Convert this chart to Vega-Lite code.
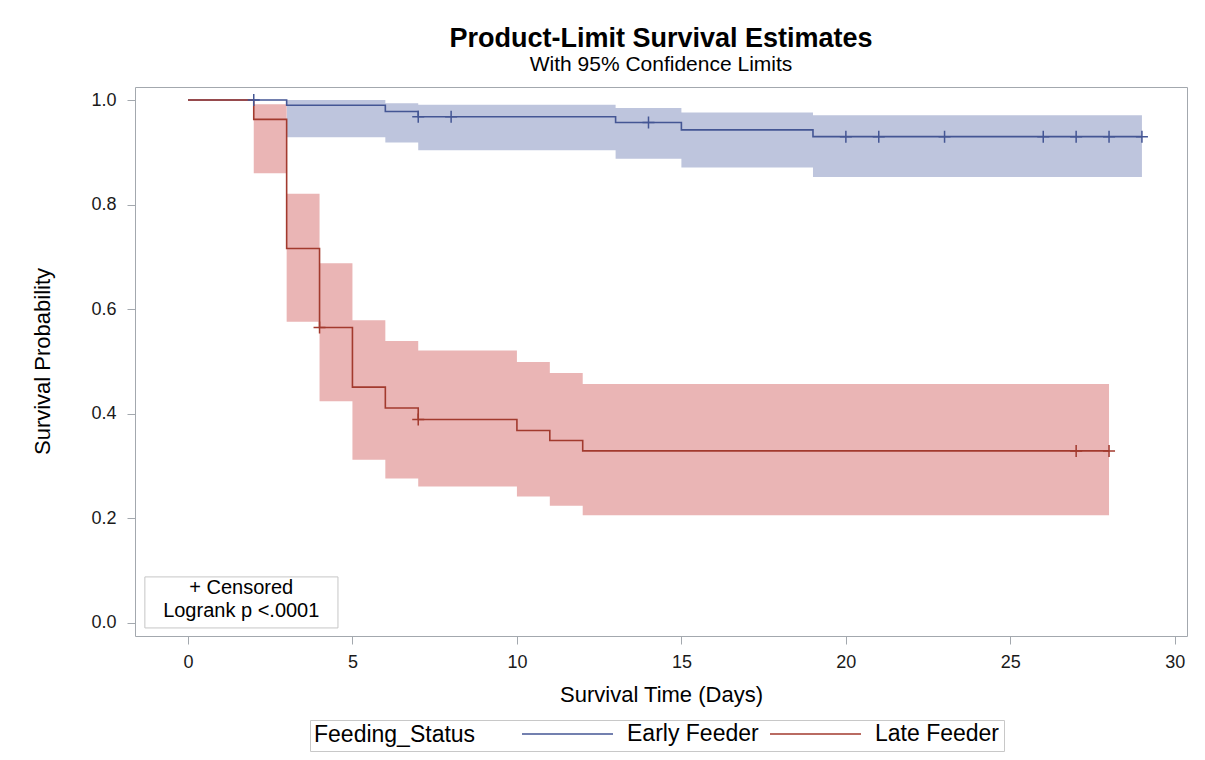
{
  "$schema": "https://vega.github.io/schema/vega-lite/v6.json",
  "width": 1052,
  "height": 549,
  "autosize": {"type": "none"},
  "padding": {"left": 135, "top": 87, "right": 18, "bottom": 124},
  "background": "white",
  "config": {
    "font": "Liberation Sans",
    "view": {"stroke": "#a3a8ae", "strokeWidth": 1},
    "axis": {
      "domain": false,
      "grid": false,
      "tickColor": "#a3a8ae",
      "tickSize": 8,
      "labelFont": "Liberation Sans",
      "labelFontSize": 18,
      "labelColor": "#1a1a1a",
      "titleFont": "Liberation Sans",
      "titleFontSize": 22,
      "titleFontWeight": "normal",
      "titleColor": "#000000"
    }
  },
  "title": {
    "text": "Product-Limit Survival Estimates",
    "subtitle": "With 95% Confidence Limits",
    "anchor": "middle",
    "font": "Liberation Sans",
    "fontSize": 27,
    "fontWeight": "bold",
    "color": "#000000",
    "subtitleFont": "Liberation Sans",
    "subtitleFontSize": 21,
    "subtitleColor": "#000000",
    "subtitlePadding": 1,
    "offset": 11
  },
  "datasets": {
    "curves": [
      {"group": "Early Feeder", "time": 0, "surv": 1.0},
      {"group": "Early Feeder", "time": 3, "surv": 0.990},
      {"group": "Early Feeder", "time": 6, "surv": 0.978},
      {"group": "Early Feeder", "time": 7, "surv": 0.968},
      {"group": "Early Feeder", "time": 13, "surv": 0.957},
      {"group": "Early Feeder", "time": 15, "surv": 0.943},
      {"group": "Early Feeder", "time": 19, "surv": 0.930},
      {"group": "Early Feeder", "time": 29, "surv": 0.930},
      {"group": "Late Feeder", "time": 0, "surv": 1.0},
      {"group": "Late Feeder", "time": 2, "surv": 0.963},
      {"group": "Late Feeder", "time": 3, "surv": 0.716},
      {"group": "Late Feeder", "time": 4, "surv": 0.565},
      {"group": "Late Feeder", "time": 5, "surv": 0.451},
      {"group": "Late Feeder", "time": 6, "surv": 0.411},
      {"group": "Late Feeder", "time": 7, "surv": 0.389},
      {"group": "Late Feeder", "time": 10, "surv": 0.368},
      {"group": "Late Feeder", "time": 11, "surv": 0.349},
      {"group": "Late Feeder", "time": 12, "surv": 0.329},
      {"group": "Late Feeder", "time": 28, "surv": 0.329}
    ],
    "bands": [
      {"group": "Early Feeder", "time": 3, "lower": 0.929, "upper": 1.0},
      {"group": "Early Feeder", "time": 6, "lower": 0.919, "upper": 0.994},
      {"group": "Early Feeder", "time": 7, "lower": 0.904, "upper": 0.991},
      {"group": "Early Feeder", "time": 13, "lower": 0.888, "upper": 0.985},
      {"group": "Early Feeder", "time": 15, "lower": 0.871, "upper": 0.976},
      {"group": "Early Feeder", "time": 19, "lower": 0.853, "upper": 0.971},
      {"group": "Early Feeder", "time": 29, "lower": 0.853, "upper": 0.971},
      {"group": "Late Feeder", "time": 2, "lower": 0.860, "upper": 0.992},
      {"group": "Late Feeder", "time": 3, "lower": 0.576, "upper": 0.821},
      {"group": "Late Feeder", "time": 4, "lower": 0.424, "upper": 0.688},
      {"group": "Late Feeder", "time": 5, "lower": 0.312, "upper": 0.579},
      {"group": "Late Feeder", "time": 6, "lower": 0.276, "upper": 0.539},
      {"group": "Late Feeder", "time": 7, "lower": 0.261, "upper": 0.521},
      {"group": "Late Feeder", "time": 10, "lower": 0.242, "upper": 0.499},
      {"group": "Late Feeder", "time": 11, "lower": 0.224, "upper": 0.478},
      {"group": "Late Feeder", "time": 12, "lower": 0.206, "upper": 0.457},
      {"group": "Late Feeder", "time": 28, "lower": 0.206, "upper": 0.457}
    ],
    "censored": [
      {"group": "Early Feeder", "time": 2, "surv": 1.0},
      {"group": "Early Feeder", "time": 7, "surv": 0.968},
      {"group": "Early Feeder", "time": 8, "surv": 0.968},
      {"group": "Early Feeder", "time": 14, "surv": 0.957},
      {"group": "Early Feeder", "time": 20, "surv": 0.930},
      {"group": "Early Feeder", "time": 21, "surv": 0.930},
      {"group": "Early Feeder", "time": 23, "surv": 0.930},
      {"group": "Early Feeder", "time": 26, "surv": 0.930},
      {"group": "Early Feeder", "time": 27, "surv": 0.930},
      {"group": "Early Feeder", "time": 28, "surv": 0.930},
      {"group": "Early Feeder", "time": 29, "surv": 0.930},
      {"group": "Late Feeder", "time": 4, "surv": 0.565},
      {"group": "Late Feeder", "time": 7, "surv": 0.389},
      {"group": "Late Feeder", "time": 27, "surv": 0.329},
      {"group": "Late Feeder", "time": 28, "surv": 0.329}
    ],
    "notes": [
      {"note": "statistics"}
    ]
  },
  "layer": [
    {
      "data": {"name": "bands"},
      "transform": [{"filter": "datum.group === 'Early Feeder'"}],
      "mark": {"type": "area", "interpolate": "step-after", "fill": "#BEC5DD"},
      "encoding": {
        "x": {
          "field": "time", "type": "quantitative",
          "scale": {"domain": [-1.61, 30.37], "nice": false, "zero": false},
          "axis": {"values": [0, 5, 10, 15, 20, 25, 30], "labelPadding": 9, "titleX": 526, "titleY": 65, "titleBaseline": "alphabetic"},
          "title": "Survival Time (Days)"
        },
        "y": {
          "field": "lower", "type": "quantitative",
          "scale": {"domain": [-0.025, 1.025], "nice": false, "zero": false},
          "axis": {"values": [0, 0.2, 0.4, 0.6, 0.8, 1.0], "format": ".1f", "labelPadding": 11, "titleX": -86, "titleY": 274, "titleAngle": -90, "titleBaseline": "alphabetic", "titleAlign": "center"},
          "title": "Survival Probability"
        },
        "y2": {"field": "upper"}
      }
    },
    {
      "data": {"name": "bands"},
      "transform": [{"filter": "datum.group === 'Late Feeder'"}],
      "mark": {"type": "area", "interpolate": "step-after", "fill": "#EAB5B5"},
      "encoding": {
        "x": {"field": "time", "type": "quantitative", "title": "Survival Time (Days)"},
        "y": {"field": "lower", "type": "quantitative", "title": "Survival Probability"},
        "y2": {"field": "upper"}
      }
    },
    {
      "data": {"name": "notes"},
      "mark": {"type": "rect", "fill": "white", "stroke": "#c6c6c6", "strokeWidth": 1},
      "encoding": {
        "x": {"datum": -1.31, "type": "quantitative", "title": "Survival Time (Days)"},
        "x2": {"datum": 4.56},
        "y": {"datum": 0.088, "type": "quantitative", "title": "Survival Probability"},
        "y2": {"datum": -0.0096}
      }
    },
    {
      "data": {"name": "notes"},
      "mark": {"type": "text", "text": "+ Censored", "fontSize": 20, "color": "#000000", "baseline": "middle", "align": "center"},
      "encoding": {
        "x": {"datum": 1.62, "type": "quantitative", "title": "Survival Time (Days)"},
        "y": {"datum": 0.067, "type": "quantitative", "title": "Survival Probability"}
      }
    },
    {
      "data": {"name": "notes"},
      "mark": {"type": "text", "text": "Logrank p <.0001", "fontSize": 20, "color": "#000000", "baseline": "middle", "align": "center"},
      "encoding": {
        "x": {"datum": 1.62, "type": "quantitative", "title": "Survival Time (Days)"},
        "y": {"datum": 0.022, "type": "quantitative", "title": "Survival Probability"}
      }
    },
    {
      "data": {"name": "curves"},
      "mark": {"type": "line", "interpolate": "step-after", "strokeWidth": 1.6},
      "encoding": {
        "x": {"field": "time", "type": "quantitative", "title": "Survival Time (Days)"},
        "y": {"field": "surv", "type": "quantitative", "title": "Survival Probability"},
        "stroke": {
          "field": "group", "type": "nominal",
          "scale": {"domain": ["Early Feeder", "Late Feeder"], "range": ["#445694", "#A23A2E"]},
          "legend": {
            "orient": "none",
            "legendX": 175,
            "legendY": 633,
            "direction": "horizontal",
            "title": "Feeding_Status",
            "titleOrient": "left",
            "titleFont": "Liberation Sans",
            "titleFontSize": 23,
            "titleFontWeight": "normal",
            "titleColor": "#000000",
            "titlePadding": 45,
            "labelFont": "Liberation Sans",
            "labelFontSize": 23,
            "labelColor": "#000000",
            "symbolType": "stroke",
            "symbolSize": 8281,
            "symbolStrokeWidth": 1.5,
            "labelOffset": 13,
            "columnPadding": 10,
            "clipHeight": 20,
            "padding": 4,
            "strokeColor": "#c8c8c8",
            "fillColor": "white"
          }
        }
      }
    },
    {
      "data": {"name": "censored"},
      "mark": {"type": "point", "shape": "M-1,0H1M0,-1V1", "filled": false, "size": 144, "strokeWidth": 1.5, "opacity": 1},
      "encoding": {
        "x": {"field": "time", "type": "quantitative", "title": "Survival Time (Days)"},
        "y": {"field": "surv", "type": "quantitative", "title": "Survival Probability"},
        "stroke": {"field": "group", "type": "nominal"}
      }
    }
  ]
}
